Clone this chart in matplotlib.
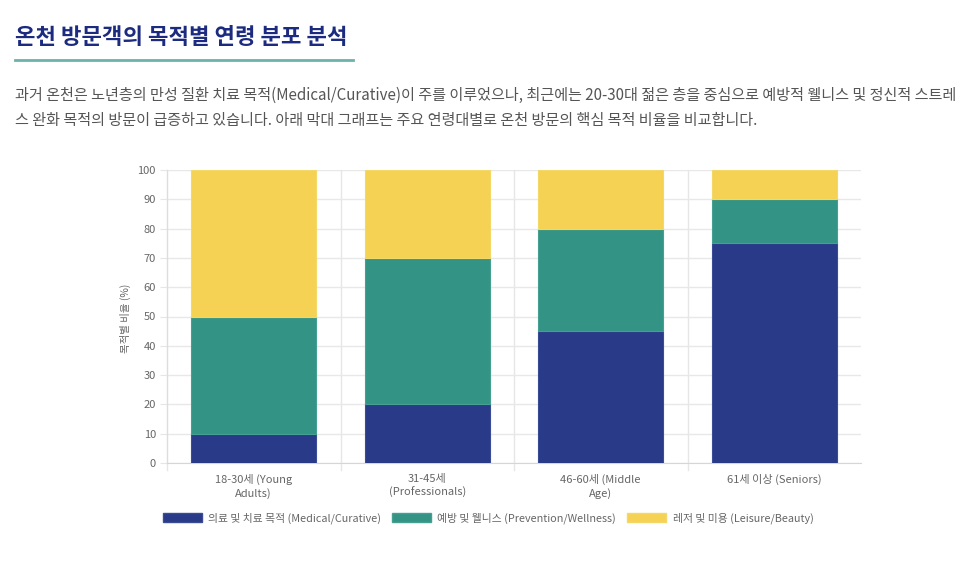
import matplotlib
matplotlib.use('Agg')
from matplotlib import pyplot as plt
from matplotlib.patches import Patch
import numpy as np

plt.rcParams['font.family'] = ['Noto Sans CJK KR', 'DejaVu Sans']

age_groups = ['18-30세 (Young\nAdults)', '31-45세\n(Professionals)', '46-60세 (Middle\nAge)', '61세 이상 (Seniors)']
medical = [10, 20, 45, 75]
wellness = [40, 50, 35, 15]
leisure = [50, 30, 20, 10]
series_names = ['의료 및 치료 목적 (Medical/Curative)', '예방 및 웰니스 (Prevention/Wellness)', '레저 및 미용 (Leisure/Beauty)']
colors = ['#283a88', '#339485', '#f5d253']
edge_colors = ['#3a4c96', '#46a092', '#f3d868']
y_ticks = list(range(0, 101, 10))

W, H = 975, 566
fig = plt.figure(figsize=(W / 100, H / 100), dpi=100)
fig.patch.set_facecolor('white')

# heading + underline
fig.text(15 / W, 1 - 38 / H, '온천 방문객의 목적별 연령 분포 분석', fontsize=16, fontweight='bold',
         color='#1c2b80', va='center', ha='left')
fig.add_artist(plt.Line2D([15 / W, 353 / W], [1 - 60 / H, 1 - 60 / H], color='#6bb3a8', lw=2))

para = ('과거 온천은 노년층의 만성 질환 치료 목적(Medical/Curative)이 주를 이루었으나, 최근에는 20-30대 젊은 층을 중심으로 예방적 웰니스 및 정신적 스트레\n'
        '스 완화 목적의 방문이 급증하고 있습니다. 아래 막대 그래프는 주요 연령대별로 온천 방문의 핵심 목적 비율을 비교합니다.')
fig.text(15 / W, 1 - 108 / H, para, fontsize=10.9, color='#555555', va='center', ha='left', linespacing=1.65)

# chart area
left, right, top, bottom = 167, 861, 170, 463
ax = fig.add_axes([left / W, 1 - bottom / H, (right - left) / W, (bottom - top) / H])

x = np.arange(len(age_groups))
width = 0.72
ax.bar(x, medical, width, color=colors[0], edgecolor=edge_colors[0], linewidth=0.8, zorder=3)
ax.bar(x, wellness, width, bottom=medical, color=colors[1], edgecolor=edge_colors[1], linewidth=0.8, zorder=3)
stack2 = np.array(medical) + np.array(wellness)
ax.bar(x, leisure, width, bottom=stack2, color=colors[2], edgecolor=edge_colors[2], linewidth=0.8, zorder=3)

ax.set_xlim(-0.5, len(age_groups) - 0.5)
ax.set_ylim(0, 100)
ax.set_yticks(y_ticks)
ax.set_xticks(x)
ax.set_xticklabels(age_groups, fontsize=8, color='#666666', linespacing=1.3)
ax.tick_params(axis='y', labelsize=8, labelcolor='#666666', length=5, color='#e6e6e6', pad=3)
ax.tick_params(axis='x', length=0, pad=8)

# vertical grid at category boundaries
for b in np.arange(-0.5, len(age_groups) - 0.5, 1.0):
    ax.plot([b, b], [-0.025, 1], transform=ax.get_xaxis_transform(), color='#e6e6e6', lw=1,
            clip_on=False, zorder=0)
ax.grid(axis='y', color='#e8e8e8', lw=1, zorder=0)
for s in ['top', 'right']:
    ax.spines[s].set_visible(False)
ax.spines['left'].set_color('#dddddd')
ax.spines['bottom'].set_color('#d6d6d6')

fig.text(125 / W, 1 - 318 / H, '목적별 비율 (%)', rotation=90, fontsize=7.5, color='#666666',
         va='center', ha='center')

handles = [Patch(facecolor=c, edgecolor=e) for c, e in zip(colors, edge_colors)]
fig.legend(handles, series_names, loc='center', bbox_to_anchor=(488 / W, 1 - 518 / H), ncol=3,
           frameon=False, fontsize=7.8, labelcolor='#666666', handlelength=3.6, handleheight=1.0,
           columnspacing=1.0, handletextpad=0.6)

fig.savefig('out.png', dpi=100)
